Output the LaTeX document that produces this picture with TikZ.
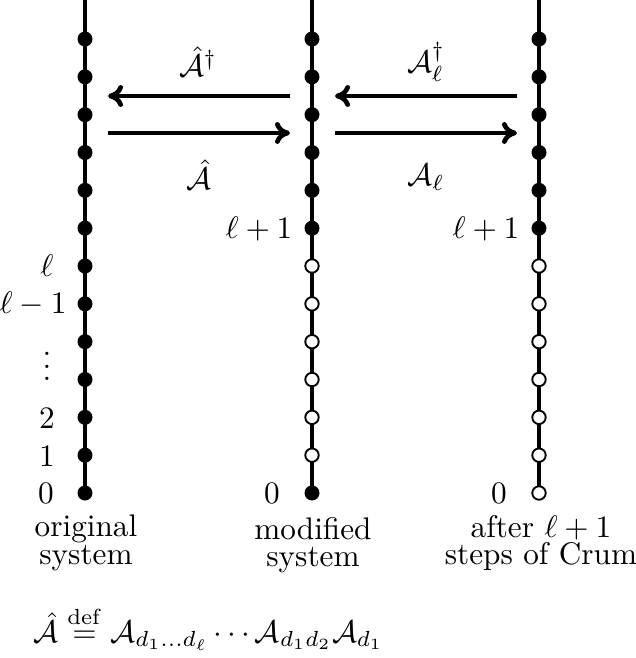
\documentclass[tikz,border=0pt]{standalone}
\usetikzlibrary{arrows.meta}
\begin{document}
\begin{tikzpicture}[x=0.32pt,y=-0.32pt,
  fdot/.style={circle,fill=black,inner sep=0pt,minimum size=4.8pt},
  odot/.style={circle,draw=black,fill=white,line width=0.6pt,inner sep=0pt,minimum size=4.3pt},
  chainline/.style={line width=1.3pt},
  oparrow/.style={line width=1.5pt,-{Computer Modern Rightarrow[length=4.8pt,width=7pt]}},
  lbl/.style={inner sep=0pt,font=\fontsize{10}{9}\selectfont},
  caption/.style={inner sep=0pt,align=center,font=\fontsize{10}{8.8}\selectfont}
]
\useasboundingbox (0,0) rectangle (636,658);
% columns
\foreach \c/\x in {L/85,M/312,R/539}{
  \coordinate (\c top) at (\x,0);
  \foreach \i in {0,...,12}{
    \coordinate (\c p\i) at (\x,{493-37.833*\i});
  }
  \draw[chainline] (\c top) -- (\c p0);
}
% dots left: all filled
\foreach \i in {0,...,12}{ \node[fdot] (L\i) at (Lp\i) {}; }
% middle
\node[fdot] (M0) at (Mp0) {};
\foreach \i in {1,...,6}{ \node[odot] (M\i) at (Mp\i) {}; }
\foreach \i in {7,...,12}{ \node[fdot] (M\i) at (Mp\i) {}; }
% right
\foreach \i in {0,...,6}{ \node[odot] (R\i) at (Rp\i) {}; }
\foreach \i in {7,...,12}{ \node[fdot] (R\i) at (Rp\i) {}; }
% arrows
\coordinate (a1s) at (290,96);  \coordinate (a1e) at (108,96);
\coordinate (b1s) at (108,133); \coordinate (b1e) at (290,133);
\coordinate (a2s) at (517,96);  \coordinate (a2e) at (335,96);
\coordinate (b2s) at (335,133); \coordinate (b2e) at (517,133);
\draw[oparrow] (a1s) -- (a1e);
\draw[oparrow] (b1s) -- (b1e);
\draw[oparrow] (a2s) -- (a2e);
\draw[oparrow] (b2s) -- (b2e);
\node[lbl] (t1) at (198,62) {$\hat{\mathcal{A}}^{\dagger}$};
\node[lbl] (t2) at (199,175) {$\hat{\mathcal{A}}$};
\node[lbl] (t3) at (426,62) {$\mathcal{A}_{\ell}^{\dagger}$};
\node[lbl] (t4) at (426,177) {$\mathcal{A}_{\ell}$};
% left labels
\node[lbl] (ll) at (47,266) {$\ell$};
\node[lbl,anchor=east] (llm) at (67,304) {$\ell-1$};
\node[lbl] (lvd) at (47,357) {$\vdots$};
\node[lbl] (l2) at (47,418) {$2$};
\node[lbl] (l1) at (47,456) {$1$};
\node[lbl] (l0) at (46,493) {$0$};
\node[lbl] (m0) at (272,493) {$0$};
\node[lbl] (r0) at (499,493) {$0$};
\node[lbl,anchor=east] (mlp) at (293,229) {$\ell+1$};
\node[lbl,anchor=east] (rlp) at (520,229) {$\ell+1$};
% captions
\node[caption] (c1) at (86,543) {original\\system};
\node[caption] (c2) at (313,545) {modified\\system};
\node[caption] (c3) at (541,543) {after $\ell+1$\\steps of Crum};
\node[lbl,anchor=base west] (f) at (33,642)
  {$\hat{\mathcal{A}}\stackrel{\mathrm{def}}{=}\mathcal{A}_{d_1{\ldotp\ldotp\ldotp}d_\ell}\cdots\mathcal{A}_{d_1d_2}\mathcal{A}_{d_1}$};
\end{tikzpicture}
\end{document}
